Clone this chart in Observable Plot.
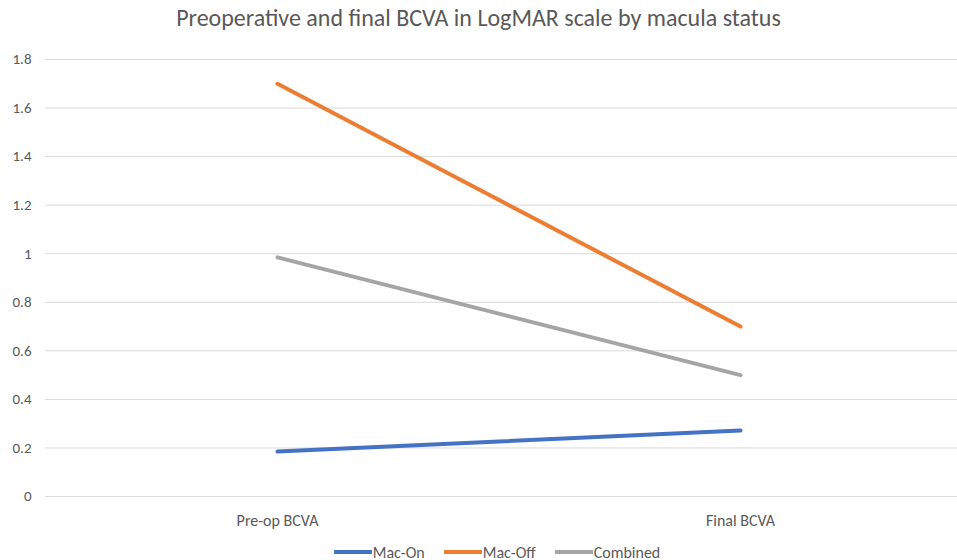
<!DOCTYPE html>
<html><head><meta charset="utf-8">
<script src="https://cdn.jsdelivr.net/npm/d3@7"></script>
<script src="https://cdn.jsdelivr.net/npm/@observablehq/plot@0.6"></script>
<style>
body{margin:0;background:#fff;font-family:Carlito,"Liberation Sans","Noto Sans",sans-serif;}
#wrap{width:957px;height:560px;position:relative;}
#title{height:38px;line-height:36px;text-align:center;font-size:24px;color:#595959;}
#legend{display:flex;justify-content:center;gap:19px;font-size:16px;color:#595959;height:24px;align-items:center;margin-left:37px;padding-top:2px;}
.item{display:flex;align-items:center;}
.sw{display:inline-block;width:38px;height:4px;margin-right:1px;}
</style></head>
<body><div id="wrap"><div id="title">Preoperative and final BCVA in LogMAR scale by macula status</div><div id="chart"></div><div id="legend"></div></div>
<script>
const categories = ["Pre-op BCVA", "Final BCVA"];
const seriesNames = ["Mac-On", "Mac-Off", "Combined"];
const macOn = [0.185, 0.272];
const macOff = [1.70, 0.70];
const combined = [0.985, 0.50];
const yTicks = [0, 0.2, 0.4, 0.6, 0.8, 1, 1.2, 1.4, 1.6, 1.8];
const colors = ["#4472C4", "#ED7D31", "#A5A5A5"];

const seriesValues = [macOn, macOff, combined];
const data = [];
seriesNames.forEach((s, i) => categories.forEach((c, j) => data.push({series: s, cat: c, value: seriesValues[i][j]})));

const chart = Plot.plot({
  width: 957, height: 500,
  marginTop: 21, marginBottom: 42, marginLeft: 45, marginRight: 0,
  style: {fontFamily: "Carlito, 'Liberation Sans', sans-serif", fontSize: "15px", color: "#595959", background: "#fff"},
  x: {type: "point", domain: categories, range: [277, 740], padding: 0, label: null},
  y: {domain: [0, 1.8], label: null},
  color: {domain: seriesNames, range: colors},
  marks: [
    Plot.ruleY(yTicks, {stroke: "#d9d9d9", strokeWidth: 1}),
    Plot.axisY(yTicks, {tickSize: 0, tickPadding: 14, label: null, fontSize: 15, tickFormat: d => String(+d.toFixed(1)), fill: "#595959"}),
    Plot.axisX({tickSize: 0, tickPadding: 18, label: null, fontSize: 16, fill: "#595959"}),
    Plot.line(data, {x: "cat", y: "value", z: "series", stroke: "series", strokeWidth: 4, strokeLinecap: "round"})
  ]
});
document.getElementById("chart").appendChild(chart);

const lg = document.getElementById("legend");
seriesNames.forEach((s, i) => {
  const it = document.createElement("div"); it.className = "item";
  const sw = document.createElement("span"); sw.className = "sw"; sw.style.background = colors[i];
  it.appendChild(sw); it.appendChild(document.createTextNode(s)); lg.appendChild(it);
});
</script></body></html>
